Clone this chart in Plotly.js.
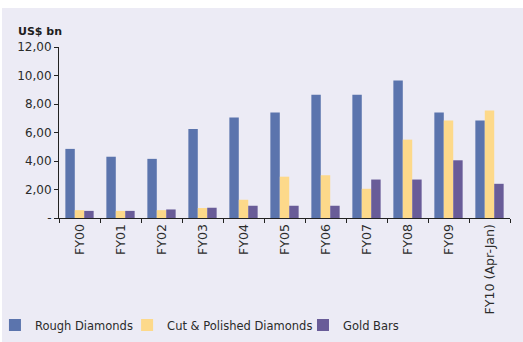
<!DOCTYPE html>
<html>
<head>
<meta charset="utf-8">
<script src="https://cdn.plot.ly/plotly-3.0.1.min.js"></script>
<style>
html,body{margin:0;padding:0;background:#ffffff;overflow:hidden;}
#chart{position:absolute;left:-30px;top:8px;width:553px;height:334px;}
#edge{position:absolute;left:0;top:0;width:2px;height:342px;background:#ffffff;z-index:5;}
</style>
</head>
<body>
<div id="chart"></div>
<div id="edge"></div>
<script>
var categories = ["FY00","FY01","FY02","FY03","FY04","FY05","FY06","FY07","FY08","FY09","FY10 (Apr-Jan)"];
var roughDiamonds = [4.85, 4.3, 4.15, 6.25, 7.05, 7.4, 8.65, 8.65, 9.65, 7.4, 6.85];
var cutPolished = [0.55, 0.5, 0.55, 0.7, 1.28, 2.9, 3.0, 2.05, 5.5, 6.85, 7.55];
var goldBars = [0.5, 0.5, 0.6, 0.72, 0.86, 0.86, 0.86, 2.7, 2.7, 4.05, 2.4];
var yTickVals = [0, 2, 4, 6, 8, 10, 12];
var yTickText = ["-", "2,00", "4,00", "6,00", "8,00", "10,00", "12,00"];

var font = "DejaVu Sans, sans-serif";
var txt = "#2b2b2b";
var legFont = {family:font, size:11.5, color:txt};
function leg(x){
  return {orientation:"h", x:x, xanchor:"left", y:-0.626, yanchor:"middle",
          font:legFont, bgcolor:"rgba(0,0,0,0)", borderwidth:0};
}
var traces = [
  {type:"bar", name:"Rough Diamonds", x:categories, y:roughDiamonds, marker:{color:"#5B74AD"}, legend:"legend"},
  {type:"bar", name:"Cut & Polished Diamonds", x:categories, y:cutPolished, marker:{color:"#FDD98A"}, legend:"legend2"},
  {type:"bar", name:"Gold Bars", x:categories, y:goldBars, marker:{color:"#695C98"}, legend:"legend3"}
];
var layout = {
  width:553, height:334,
  paper_bgcolor:"#ECEBF5", plot_bgcolor:"#ECEBF5",
  margin:{l:89, r:13, t:39, b:124, autoexpand:false},
  barmode:"group", bargap:0.31, bargroupgap:0,
  font:{family:font, size:12, color:txt},
  showlegend:true,
  legend:leg(-0.142),
  legend2:leg(0.151),
  legend3:leg(0.541),
  xaxis:{type:"category", showline:true, linecolor:"#222222", linewidth:1,
         ticks:"outside", tickson:"boundaries", ticklen:4, tickcolor:"#222222",
         tickangle:-90, tickfont:{family:font, size:12.6, color:txt}, showgrid:false, zeroline:false,
         automargin:false},
  yaxis:{range:[0,12], showline:true, linecolor:"#222222", linewidth:1,
         ticks:"outside", ticklen:4, tickcolor:"#222222",
         tickvals:yTickVals, ticktext:yTickText, tickfont:{family:font, size:12, color:txt},
         showgrid:false, zeroline:false, automargin:false},
  annotations:[{text:"<b>US$ bn</b>", xref:"paper", yref:"paper", x:-0.0953, xanchor:"left",
                y:1.088, yanchor:"middle", showarrow:false, font:{family:font, size:11, color:"#1e1e1e"}}]
};
Plotly.newPlot("chart", traces, layout, {displayModeBar:false, staticPlot:true});
</script>
</body>
</html>
